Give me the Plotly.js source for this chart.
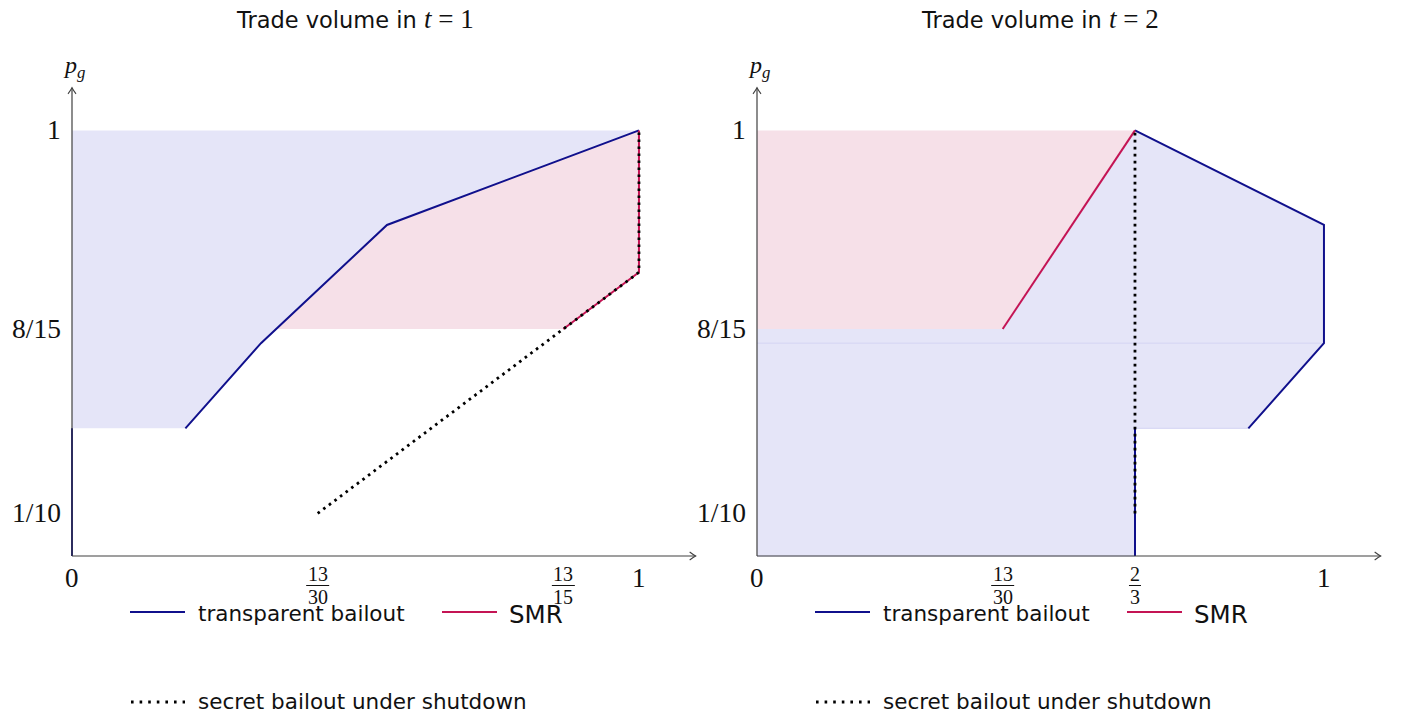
<!DOCTYPE html>
<html>
<head>
<meta charset="utf-8">
<script src="https://cdn.plot.ly/plotly-3.0.1.min.js"></script>
<style>html,body{margin:0;padding:0;background:#fff;}#chart{width:1405px;height:717px;}</style>
</head>
<body>
<div id="chart"></div>
<script>
// ---------- data (t = 1, left panel) ----------
const leftBlueFillX = [0, 0.2, 1/3, 5/9, 1, 0];
const leftBlueFillY = [0.3, 0.3, 0.5, 7/9, 1, 1];
const leftPinkFillX = [0.36, 5/9, 1, 1, 13/15];
const leftPinkFillY = [8/15, 7/9, 1, 2/3, 8/15];
const leftTransparentX = [0, 0, null, 0.2, 1/3, 5/9, 1];
const leftTransparentY = [0, 0.3, null, 0.3, 0.5, 7/9, 1];
const leftSmrX = [13/15, 1, 1];
const leftSmrY = [8/15, 2/3, 1];
const leftSecretX = [13/30, 1, 1];
const leftSecretY = [0.1, 2/3, 1];

// ---------- data (t = 2, right panel) ----------
const rightPinkFillX = [0, 13/30, 2/3, 0];
const rightPinkFillY = [8/15, 8/15, 1, 1];
const rightBlueLowerX = [0, 2/3, 2/3, 13/15, 1, 0];
const rightBlueLowerY = [0, 0, 0.3, 0.3, 0.5, 0.5];
const rightBlueUpperX = [0, 1, 1, 2/3, 13/30, 0];
const rightBlueUpperY = [0.5, 0.5, 7/9, 1, 8/15, 8/15];
const rightTransparentX = [2/3, 2/3, null, 13/15, 1, 1, 2/3];
const rightTransparentY = [0, 0.3, null, 0.3, 0.5, 7/9, 1];
const rightSmrX = [13/30, 2/3];
const rightSmrY = [8/15, 1];
const rightSecretX = [2/3, 2/3];
const rightSecretY = [0.1, 1];

// ---------- ticks ----------
const leftXTickVals = [0, 13/30, 13/15, 1];
const leftXTickText = ['0', '13/30', '13/15', '1'];
const rightXTickVals = [0, 13/30, 2/3, 1];
const rightXTickText = ['0', '13/30', '2/3', '1'];
const yTickVals = [1, 8/15, 0.1];
const yTickText = ['1', '8/15', '1/10'];
const panelTitles = ['t = 1', 't = 2'];
const legendNames = ['transparent bailout', 'SMR', 'secret bailout under shutdown'];

// ---------- styles ----------
const BLUE = '#10108c';
const RED = '#c41454';
const BLUE_FILL = '#e5e5f8';
const PINK_FILL = '#f6e0e8';
const AXIS = '#404040';
const SERIF = '"Liberation Serif", "DejaVu Serif", serif';
const SANS = '"DejaVu Sans", sans-serif';
const DOT = '2.6px,4.4px';

function fill(x, y, color, xa, ya, outline) {
  return {x: x, y: y, xaxis: xa, yaxis: ya, type: 'scatter', mode: outline ? 'lines' : 'none',
    fill: 'toself', fillcolor: color, hoverinfo: 'skip', showlegend: false,
    line: outline ? {color: outline, width: 1} : {width: 0}};
}
function line(x, y, color, width, dash, xa, ya) {
  return {x: x, y: y, xaxis: xa, yaxis: ya, type: 'scatter', mode: 'lines',
    line: {color: color, width: width, dash: dash || 'solid'}, hoverinfo: 'skip', showlegend: false,
    connectgaps: false};
}

const traces = [
  fill(leftBlueFillX, leftBlueFillY, BLUE_FILL, 'x', 'y'),
  fill(leftPinkFillX, leftPinkFillY, PINK_FILL, 'x', 'y'),
  line(leftTransparentX, leftTransparentY, BLUE, 2, null, 'x', 'y'),
  line(leftSmrX, leftSmrY, RED, 2, null, 'x', 'y'),
  line(leftSecretX, leftSecretY, '#000', 2.8, DOT, 'x', 'y'),

  fill(rightPinkFillX, rightPinkFillY, PINK_FILL, 'x2', 'y2'),
  fill(rightBlueUpperX, rightBlueUpperY, BLUE_FILL, 'x2', 'y2'),
  fill(rightBlueLowerX, rightBlueLowerY, BLUE_FILL, 'x2', 'y2', '#d3d3f3'),
  line(rightTransparentX, rightTransparentY, BLUE, 2, null, 'x2', 'y2'),
  line(rightSmrX, rightSmrY, RED, 2, null, 'x2', 'y2'),
  line(rightSecretX, rightSecretY, '#000', 2.8, DOT, 'x2', 'y2')
];

const shapes = [];
const annotations = [];

function axisDecor(xr, yr, xVals, xText) {
  // axis lines
  shapes.push({type: 'line', xref: xr, yref: yr, x0: 0, x1: 1.1, y0: 0, y1: 0, line: {color: AXIS, width: 1.2}, layer: 'above'});
  shapes.push({type: 'line', xref: xr, yref: yr, x0: 0, x1: 0, y0: 0, y1: 1.1, line: {color: AXIS, width: 1.2}, layer: 'above'});
  // arrow heads
  shapes.push({type: 'path', xref: xr, yref: yr, xsizemode: 'pixel', ysizemode: 'pixel', xanchor: 1.1, yanchor: 0,
    path: 'M-6,4 Q-2,1 0,0 Q-2,-1 -6,-4', line: {color: AXIS, width: 1.1}, layer: 'above'});
  shapes.push({type: 'path', xref: xr, yref: yr, xsizemode: 'pixel', ysizemode: 'pixel', xanchor: 0, yanchor: 1.1,
    path: 'M-4,-6 Q-1,-2 0,0 Q1,-2 4,-6', line: {color: AXIS, width: 1.1}, layer: 'above'});
  // y tick labels
  yTickVals.forEach(function (v, i) {
    annotations.push({xref: xr, yref: yr, x: 0, y: v, xanchor: 'right', yanchor: 'middle', xshift: -9, yshift: 1,
      text: yTickText[i], showarrow: false, font: {family: SERIF, size: 27.5, color: '#111'}});
  });
  // x tick labels
  xVals.forEach(function (v, i) {
    const t = xText[i];
    if (t.indexOf('/') < 0) {
      annotations.push({xref: xr, yref: yr, x: v, y: 0, xanchor: 'center', yanchor: 'middle', yshift: -22,
        text: t, showarrow: false, font: {family: SERIF, size: 27, color: '#111'}});
    } else {
      const parts = t.split('/');
      annotations.push({xref: xr, yref: yr, x: v, y: 0, xanchor: 'center', yanchor: 'middle', yshift: -18,
        text: parts[0], showarrow: false, font: {family: SERIF, size: 20, color: '#111'}});
      annotations.push({xref: xr, yref: yr, x: v, y: 0, xanchor: 'center', yanchor: 'middle', yshift: -41,
        text: parts[1], showarrow: false, font: {family: SERIF, size: 20, color: '#111'}});
      const half = parts[0].length > 1 ? 11.5 : 6;
      shapes.push({type: 'path', xref: xr, yref: yr, xsizemode: 'pixel', ysizemode: 'pixel', xanchor: v, yanchor: 0,
        path: 'M' + (-half) + ',-29.5 L' + half + ',-29.5', line: {color: '#111', width: 1}});
    }
  });
  // y axis label p_g
  annotations.push({xref: xr, yref: yr, x: 0, y: 1.1, xanchor: 'center', yanchor: 'middle', yshift: 21, xshift: 2,
    text: '<i>p</i><sub><i>g</i></sub>', showarrow: false, font: {family: SERIF, size: 24, color: '#111'}});
}
axisDecor('x', 'y', leftXTickVals, leftXTickText);
axisDecor('x2', 'y2', rightXTickVals, rightXTickText);

// panel titles
[['x', 0], ['x2', 1]].forEach(function (p) {
  const parts = panelTitles[p[1]].split(' = ');
  annotations.push({xref: p[0], yref: 'paper', x: 0.5, y: 1 - 19 / 717, xanchor: 'center', yanchor: 'middle',
    showarrow: false, font: {family: SANS, size: 22.5, color: '#111'},
    text: 'Trade volume in <span style="font-family:\'Liberation Serif\';font-size:27px"><i>' + parts[0] + '</i> = ' + parts[1] + '</span>'});
});

// legends (paper coordinates)
function px(x) { return x / 1405; }
function py(y) { return (717 - y) / 717; }
[0, 685].forEach(function (off) {
  shapes.push({type: 'line', xref: 'paper', yref: 'paper', x0: px(130 + off), x1: px(185 + off), y0: py(612), y1: py(612), line: {color: BLUE, width: 2}});
  annotations.push({xref: 'paper', yref: 'paper', x: px(196 + off), y: py(613), xanchor: 'left', yanchor: 'middle', showarrow: false,
    text: legendNames[0], font: {family: SANS, size: 21.5, color: '#111'}});
  shapes.push({type: 'line', xref: 'paper', yref: 'paper', x0: px(442 + off), x1: px(497 + off), y0: py(612), y1: py(612), line: {color: RED, width: 2}});
  annotations.push({xref: 'paper', yref: 'paper', x: px(507 + off), y: py(614), xanchor: 'left', yanchor: 'middle', showarrow: false,
    text: legendNames[1], font: {family: SANS, size: 24.5, color: '#111'}});
  shapes.push({type: 'line', xref: 'paper', yref: 'paper', x0: px(131 + off), x1: px(185 + off), y0: py(702), y1: py(702), line: {color: '#000', width: 2.8, dash: '2.6px,6px'}});
  annotations.push({xref: 'paper', yref: 'paper', x: px(196 + off), y: py(701), xanchor: 'left', yanchor: 'middle', showarrow: false,
    text: legendNames[2], font: {family: SANS, size: 21.5, color: '#111'}});
});

const axisCommon = {visible: false, showgrid: false, zeroline: false, fixedrange: true};
const yDomain = [(717 - 607.07) / 717, (717 - 66.56) / 717];
const layout = {
  width: 1405, height: 717,
  margin: {l: 0, r: 0, t: 0, b: 0},
  paper_bgcolor: '#ffffff', plot_bgcolor: 'rgba(0,0,0,0)',
  showlegend: false,
  xaxis: Object.assign({}, axisCommon, {domain: [43.65 / 1405, 707 / 1405], range: [-0.05, 1.12], anchor: 'y'}),
  yaxis: Object.assign({}, axisCommon, {domain: yDomain, range: [-0.12, 1.15], anchor: 'x'}),
  xaxis2: Object.assign({}, axisCommon, {domain: [728.65 / 1405, 1392 / 1405], range: [-0.05, 1.12], anchor: 'y2'}),
  yaxis2: Object.assign({}, axisCommon, {domain: yDomain, range: [-0.12, 1.15], anchor: 'x2'}),
  shapes: shapes,
  annotations: annotations
};

Plotly.newPlot('chart', traces, layout, {displayModeBar: false, staticPlot: true});
</script>
</body>
</html>
